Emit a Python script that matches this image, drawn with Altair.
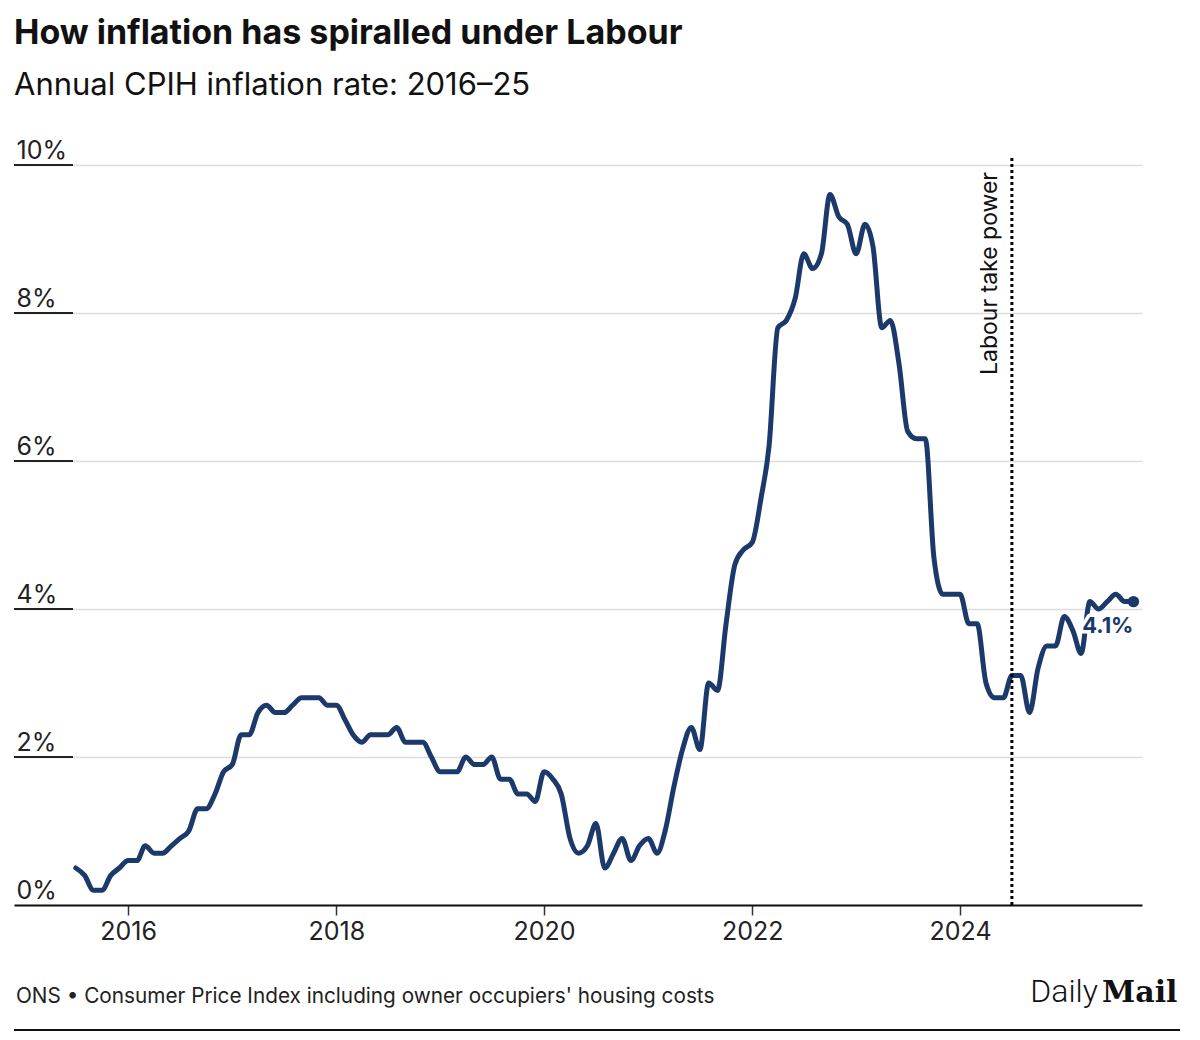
import altair as alt
import pandas as pd

# ---------------- text ----------------
TITLE = "How inflation has spiralled under Labour"
SUBTITLE = "Annual CPIH inflation rate: 2016–25"
SOURCE = "ONS • Consumer Price Index including owner occupiers' housing costs"
LOGO_LEFT = "Daily"
LOGO_RIGHT = "Mail"
EVENT_LABEL = "Labour take power"
EVENT_DATE = "2024-07-01"

# ---------------- data (annual CPIH rate, %, monthly) ----------------
START_MONTH = "2015-07-01"
cpih_2015 = [0.5, 0.4, 0.2, 0.2, 0.4, 0.5]  # Jul-Dec
cpih_2016 = [0.6, 0.6, 0.8, 0.7, 0.7, 0.8, 0.9, 1.0, 1.3, 1.3, 1.5, 1.8]
cpih_2017 = [1.9, 2.3, 2.3, 2.6, 2.7, 2.6, 2.6, 2.7, 2.8, 2.8, 2.8, 2.7]
cpih_2018 = [2.7, 2.5, 2.3, 2.2, 2.3, 2.3, 2.3, 2.4, 2.2, 2.2, 2.2, 2.0]
cpih_2019 = [1.8, 1.8, 1.8, 2.0, 1.9, 1.9, 2.0, 1.7, 1.7, 1.5, 1.5, 1.4]
cpih_2020 = [1.8, 1.7, 1.5, 0.9, 0.7, 0.8, 1.1, 0.5, 0.7, 0.9, 0.6, 0.8]
cpih_2021 = [0.9, 0.7, 1.0, 1.6, 2.1, 2.4, 2.1, 3.0, 2.9, 3.8, 4.6, 4.8]
cpih_2022 = [4.9, 5.5, 6.2, 7.8, 7.9, 8.2, 8.8, 8.6, 8.8, 9.6, 9.3, 9.2]
cpih_2023 = [8.8, 9.2, 8.9, 7.8, 7.9, 7.3, 6.4, 6.3, 6.3, 4.7, 4.2, 4.2]
cpih_2024 = [4.2, 3.8, 3.8, 3.0, 2.8, 2.8, 3.1, 3.1, 2.6, 3.2, 3.5, 3.5]
cpih_2025 = [3.9, 3.7, 3.4, 4.1, 4.0, 4.1, 4.2, 4.1, 4.1]  # Jan-Sep

Y_TICKS = [0, 2, 4, 6, 8, 10]
X_TICK_YEARS = [2016, 2018, 2020, 2022, 2024]

values = (cpih_2015 + cpih_2016 + cpih_2017 + cpih_2018 + cpih_2019 + cpih_2020
          + cpih_2021 + cpih_2022 + cpih_2023 + cpih_2024 + cpih_2025)
dates = pd.date_range(START_MONTH, periods=len(values), freq="MS")
df = pd.DataFrame({"date": dates, "rate": values})

last = df.iloc[[-1]].copy()
last["label"] = [f"{v:.1f}%" for v in last["rate"]]

event_df = pd.DataFrame({"date": [pd.Timestamp(EVENT_DATE)], "label": [EVENT_LABEL]})
tick_df = pd.DataFrame({"rate": Y_TICKS[1:]})

# ---------------- style ----------------
NAVY = "#1b3a6b"
INK = "#111111"
FONT = "Inter"
W, H = 1128, 740

x_scale = alt.Scale(domain=[alt.DateTime(year=2014, month=11, date=26),
                            alt.DateTime(year=2025, month=10, date=1)])
y_scale = alt.Scale(domain=[0, 10], nice=False, zero=True)

x_enc = alt.X("date:T", scale=x_scale,
              axis=alt.Axis(values=[alt.DateTime(year=y) for y in X_TICK_YEARS],
                            format="%Y", title=None))
y_enc = alt.Y("rate:Q", scale=y_scale,
              axis=alt.Axis(values=Y_TICKS, labelExpr="datum.value + '%'", title=None))

line = alt.Chart(df).mark_line(
    interpolate="monotone", color=NAVY, strokeWidth=5,
    strokeCap="round", strokeJoin="round"
).encode(x=x_enc, y=y_enc)

label_ticks = alt.Chart(tick_df).mark_rule(color="#222222", strokeWidth=2).encode(
    y=alt.Y("rate:Q", scale=y_scale), x=alt.value(0), x2=alt.value(59)
)

event_rule = alt.Chart(event_df).mark_rule(
    color="#000000", strokeWidth=3, strokeDash=[3, 3]
).encode(x=alt.X("date:T", scale=x_scale), y=alt.value(-7), y2=alt.value(H))

event_text = alt.Chart(event_df).mark_text(
    angle=270, align="right", baseline="bottom", dx=-7, dy=-10,
    font=FONT, fontSize=23, color=INK
).encode(x=alt.X("date:T", scale=x_scale), y=alt.value(0), text="label:N")

end_dot = alt.Chart(last).mark_point(
    filled=True, size=130, color=NAVY, opacity=1
).encode(x=alt.X("date:T", scale=x_scale), y=alt.Y("rate:Q", scale=y_scale))

end_halo = alt.Chart(last).mark_text(
    align="right", baseline="alphabetic", dx=0, dy=31, font=FONT, fontSize=22,
    fontWeight="bold", color="white", stroke="white", strokeWidth=7,
    strokeJoin="round"
).encode(x=alt.X("date:T", scale=x_scale), y=alt.Y("rate:Q", scale=y_scale),
         text="label:N")

end_label = alt.Chart(last).mark_text(
    align="right", baseline="alphabetic", dx=0, dy=31, font=FONT, fontSize=22,
    fontWeight="bold", color=NAVY
).encode(x=alt.X("date:T", scale=x_scale), y=alt.Y("rate:Q", scale=y_scale),
         text="label:N")

source = alt.Chart(pd.DataFrame({"t": [SOURCE]})).mark_text(
    align="left", baseline="alphabetic", font=FONT, fontSize=20.75, color="#222222"
).encode(x=alt.value(2), y=alt.value(838), text="t:N")

logo_a = alt.Chart(pd.DataFrame({"t": [LOGO_LEFT]})).mark_text(
    align="right", baseline="alphabetic", font="Roboto", fontWeight=300,
    fontSize=32, color="#111111"
).encode(x=alt.value(1084), y=alt.value(837), text="t:N")

logo_b = alt.Chart(pd.DataFrame({"t": [LOGO_RIGHT]})).mark_text(
    align="left", baseline="alphabetic", font="DejaVu Serif", fontWeight="bold",
    fontSize=30, color="#111111"
).encode(x=alt.value(1088), y=alt.value(837), text="t:N")

bottom_rule = alt.Chart(pd.DataFrame({"t": [0]})).mark_rule(
    color="#111111", strokeWidth=2
).encode(x=alt.value(0), x2=alt.value(1166), y=alt.value(865))

chart = alt.layer(
    line, label_ticks, event_rule, event_text, end_dot, end_halo, end_label,
    source, logo_a, logo_b, bottom_rule
).properties(
    width=W, height=H,
    title=alt.TitleParams(
        TITLE, subtitle=SUBTITLE, anchor="start", frame="group",
        font=FONT, fontSize=34, fontWeight="bold", color=INK,
        subtitleFont=FONT, subtitleFontSize=31, subtitleColor=INK,
        subtitlePadding=20, offset=37
    ),
    autosize=alt.AutoSizeParams(type="none"),
    padding={"left": 6, "top": 157, "right": 50, "bottom": 128},
    background="white"
).configure_view(stroke=None).configure_axisY(
    domain=False, ticks=False, grid=True, gridColor="#dddddd", gridWidth=1.5,
    labelFont=FONT, labelFontSize=25, labelColor="#222222", labelAlign="left",
    labelPadding=-2, labelBaseline="alphabetic", labelOffset=-7
).configure_axisX(
    domain=True, domainColor="#111111", domainWidth=2, ticks=True, tickSize=10,
    tickColor="#333333", tickWidth=1.5, grid=False, labelFont=FONT,
    labelFontSize=25, labelColor="#222222", labelPadding=4
)

chart.save("out.html", embed_options={"renderer": "svg", "actions": False})
